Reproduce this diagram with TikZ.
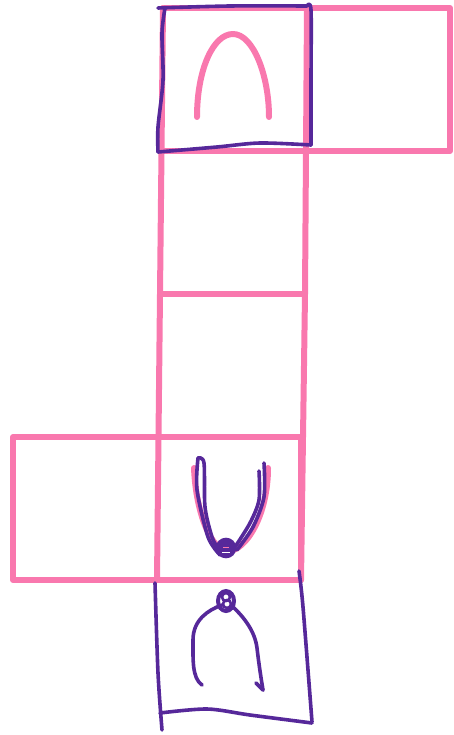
\documentclass[tikz,border=0pt]{standalone}
\definecolor{netpink}{HTML}{F978AE}
\definecolor{inkpurple}{HTML}{56289A}
\tikzset{
    netline/.style={netpink,line width=6pt,line cap=round,line join=round},
    inkline/.style={inkpurple,line width=3.6pt,line cap=round,line join=round}
}
\begin{document}
\begin{tikzpicture}[x=1pt,y=-1pt]
    \useasboundingbox (0,0) rectangle (454,735);
    \draw[netline] (163,8) -- (450,8) -- (450,151) -- (161,151);
    \draw[netline] (307,8) -- (305,294) -- (301,580);
    \draw[netline] (163,8) -- (160,294) -- (157,580);
    \draw[netline] (160,294) -- (303,294);
    \draw[netline] (13,437) rectangle (301,580);
    \draw[netline] (197,117) .. controls (197,70) and (213,34) .. (233,34) .. controls (253,34) and (269,75) .. (269,117);
    \draw[netline] (194,468) .. controls (196,515) and (212,551) .. (228,551) .. controls (246,551) and (268,515) .. (268,468);
    \draw[inkline] plot[smooth] coordinates {(158,8) (230,6) (307,6)};
    \draw[inkline] plot[smooth] coordinates {(307,6) (311,10) (311,80) (311,145)};
    \draw[inkline] plot[smooth] coordinates {(311,145) (260,143) (217,147) (158,152)};
    \draw[inkline] plot[smooth] coordinates {(158,152) (158,127) (163,80) (162,33) (165,8)};
    \draw[inkline] plot[smooth] coordinates {(155,583) (158,673) (162,730)};
    \draw[inkline] plot[smooth] coordinates {(299,571) (303,607) (312,722)};
    \draw[inkline] plot[smooth] coordinates {(160,713) (207,709) (250,715) (312,723)};
    \draw[inkline] (202,685) .. controls (192,678) and (193,660) .. (193,640) .. controls (193,620) and (208,610) .. (222,605);
    \draw[inkline] (232,606) .. controls (245,618) and (255,632) .. (257,648) .. controls (259,665) and (261,678) .. (263,690);
    \draw[inkline] (256,683) -- (263,690);
    \draw[inkline] plot[smooth] coordinates {(198,458) (197,490) (208,537) (220,555)};
    \draw[inkline] plot[smooth] coordinates {(198,458) (204,463) (205,507) (212,537) (218,548)};
    \draw[inkline] plot[smooth] coordinates {(264,463) (264,497) (253,527) (237,550)};
    \draw[inkline] plot[smooth] coordinates {(259,471) (259,500) (250,523) (235,547)};
    \draw[inkline,fill=inkpurple] (226,548) circle (8.5);
    \draw[netpink,line width=0.8pt] (223,547) -- (229,547);
    \draw[white,line width=0.8pt] (222,552) -- (230,552);
    \draw[inkpurple,line width=4pt] (226,601) ellipse (8 and 10);
    \draw[inkpurple,line width=2.6pt] (227,604) circle (4);
    \draw[inkpurple,line width=2.6pt] (226,597) circle (4);
\end{tikzpicture}
\end{document}
